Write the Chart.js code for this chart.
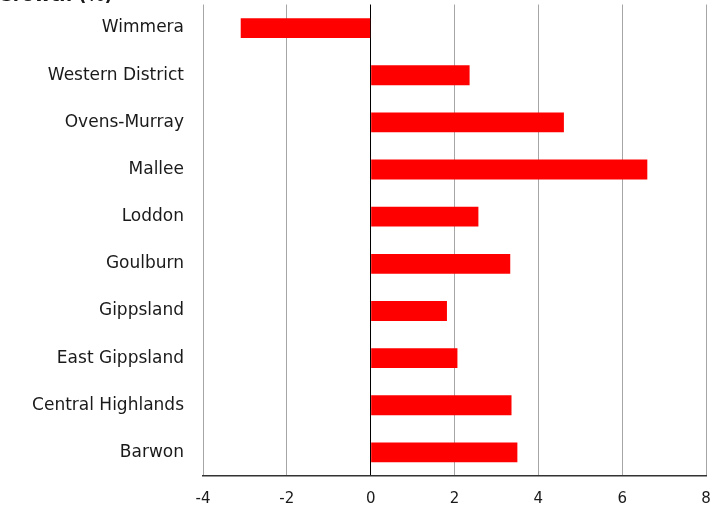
<!DOCTYPE html>
<html>
<head>
<meta charset="utf-8">
<script src="https://cdn.jsdelivr.net/npm/chart.js@4.4.1/dist/chart.umd.min.js"></script>
<style>
  html, body { margin: 0; padding: 0; background: #ffffff; }
  #wrap { width: 714px; height: 508px; }
</style>
</head>
<body>
<div id="wrap"><canvas id="chart" width="714" height="508"></canvas></div>
<script>
// Regions, top to bottom
const categories = [
  'Wimmera', 'Western District', 'Ovens-Murray', 'Mallee', 'Loddon',
  'Goulburn', 'Gippsland', 'East Gippsland', 'Central Highlands', 'Barwon'
];
// Change per region, in per cent
const changeValues = [-3.1, 2.36, 4.61, 6.6, 2.57, 3.33, 1.82, 2.07, 3.36, 3.5];
// Value axis ticks
const xTicks = [-4, -2, 0, 2, 4, 6, 8];

const TITLE_TEXT = 'Growth (%)';

// Axis title sitting at the very top-left edge of the canvas
const topTitle = {
  id: 'topTitle',
  afterDraw(chart) {
    const ctx = chart.ctx;
    ctx.save();
    ctx.font = 'bold 18px "DejaVu Sans"';
    ctx.fillStyle = '#1a1a1a';
    ctx.textAlign = 'left';
    ctx.textBaseline = 'alphabetic';
    ctx.fillText(TITLE_TEXT, -2, 0.5);
    ctx.restore();
  }
};

new Chart(document.getElementById('chart'), {
  type: 'bar',
  data: {
    labels: categories,
    datasets: [{
      data: changeValues,
      backgroundColor: '#ff0000',
      borderWidth: 0,
      categoryPercentage: 1.0,
      barPercentage: 0.42
    }]
  },
  options: {
    indexAxis: 'y',
    responsive: false,
    animation: false,
    layout: { padding: { top: 4.5, right: 8, bottom: 0, left: 0 } },
    plugins: {
      legend: { display: false },
      tooltip: { enabled: false },
      title: { display: false }
    },
    scales: {
      x: {
        type: 'linear',
        min: xTicks[0],
        max: xTicks[xTicks.length - 1],
        afterBuildTicks(scale) {
          scale.ticks = xTicks.map(v => ({ value: v }));
        },
        afterFit(scale) {
          scale.height = 32;
          scale.paddingLeft = 0;
          scale.paddingRight = 0;
        },
        ticks: {
          font: { family: '"DejaVu Sans"', size: 15 },
          color: '#1a1a1a',
          padding: 14
        },
        grid: {
          drawTicks: false,
          lineWidth: 1,
          color: (c) => (c.tick && c.tick.value === 0) ? '#000000' : '#a6a6a6'
        },
        border: { display: true, color: '#333333', width: 1.5 }
      },
      y: {
        afterFit(scale) {
          scale.width = 203;
          scale.paddingTop = 0;
          scale.paddingBottom = 0;
        },
        ticks: {
          font: { family: '"DejaVu Sans"', size: 17 },
          color: '#1a1a1a',
          padding: 19
        },
        grid: { display: false, drawTicks: false },
        border: { display: false }
      }
    }
  },
  plugins: [topTitle]
});
</script>
</body>
</html>
